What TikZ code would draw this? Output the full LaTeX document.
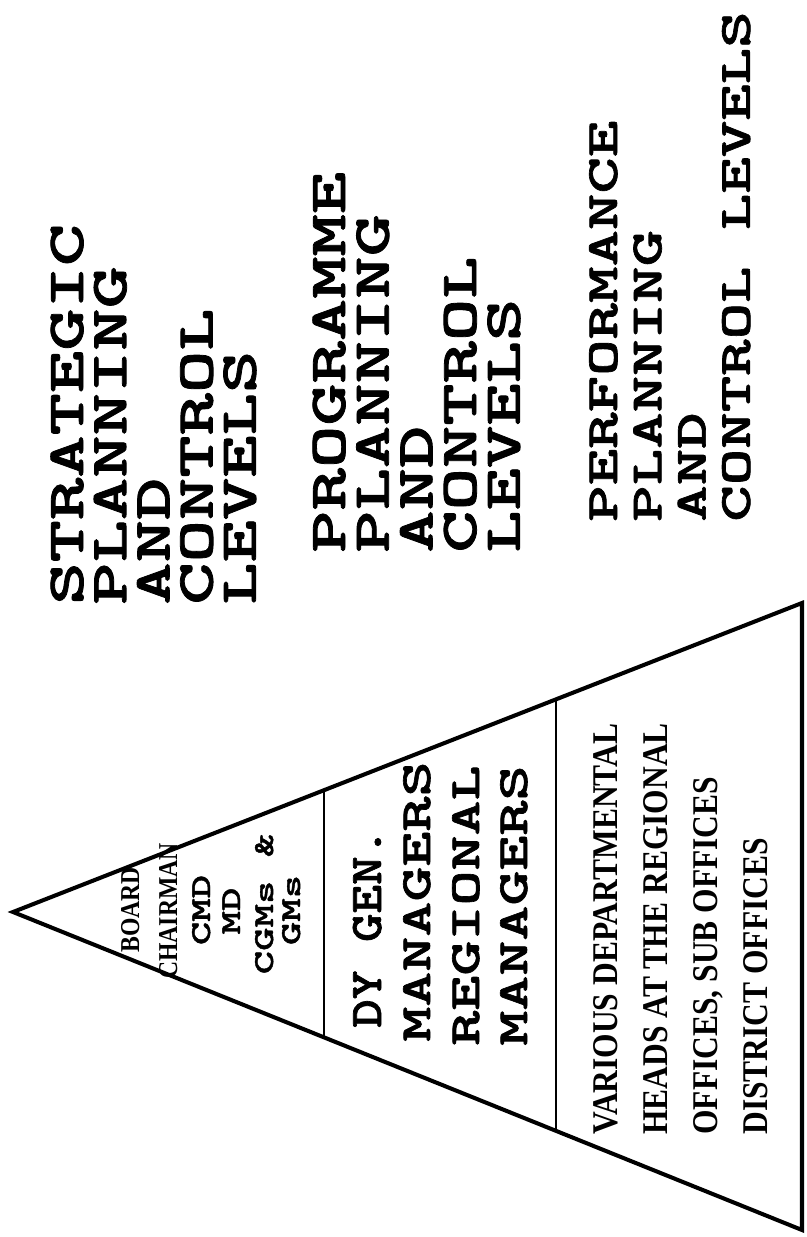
\documentclass[tikz,border=0pt]{standalone}
\usepackage{fontspec}
\usetikzlibrary{calc}
\newfontfamily\slabfont{lmmonolt10-bold}[Extension=.otf, FakeStretch=1.55, FakeBold=1.5]
\newfontfamily\slabtight{lmmonolt10-bold}[Extension=.otf, FakeStretch=1.2, FakeBold=1.5]
\newfontfamily\condfont{Liberation Serif}[FakeStretch=0.87]

\begin{document}
\begin{tikzpicture}[x=0.02cm, y=-0.02cm]

 \tikzset{
   edge/.style={draw=black, line width=2.3pt, line join=miter},
   divider/.style={draw=black, line width=1.4pt},
   lefttxt/.style={rotate=90, inner sep=0pt, anchor=base west},
   midtxt/.style={rotate=90, inner sep=0pt, anchor=base},
   headbig/.style={font=\slabfont\fontsize{29.6pt}{30pt}\selectfont},
   headsmall/.style={font=\slabfont\fontsize{25.5pt}{26pt}\selectfont},
   rankbig/.style={font=\slabfont\fontsize{24.5pt}{25pt}\selectfont},
   ranktight/.style={font=\slabtight\fontsize{25.8pt}{26pt}\selectfont},
   ranksmall/.style={font=\slabfont\fontsize{16.4pt}{17pt}\selectfont},
   condsmall/.style={font=\condfont\bfseries\fontsize{15.5pt}{16pt}\selectfont},
   condbig/.style={font=\condfont\bfseries\fontsize{20.6pt}{21pt}\selectfont}
 }

 \useasboundingbox (0,0) rectangle (807,1237);

 % Pyramid
 \coordinate (apex) at (13,912);
 \coordinate (topR) at (802,603);
 \coordinate (botR) at (802,1230);
 \draw[edge] (apex) -- (topR) -- (botR) -- cycle;
 \draw[divider] ($(apex)!0.394!(topR)$) -- ($(apex)!0.394!(botR)$);
 \draw[divider] ($(apex)!0.688!(topR)$) -- ($(apex)!0.688!(botR)$);

 % Top level
 \node[midtxt, condsmall] (board) at (139,910) {BOARD};
 \node[midtxt, condsmall] (chair) at (177,911) {CHAIRMAN};
 \node[midtxt, ranksmall] (cmd) at (210,910) {CMD};
 \node[midtxt, ranksmall] (md) at (240,911) {MD};
 \node[midtxt, ranksmall] (cgm) at (273,904) {CGMs \&};
 \node[midtxt, ranksmall] (gm) at (300,910) {GMs};

 % Middle level
 \node[lefttxt, ranktight] (dygen) at (381,1028) {DY GEN.};
 \node[lefttxt, rankbig] (mgr1) at (430,1042) {MANAGERS};
 \node[lefttxt, rankbig] (region) at (479,1046) {REGIONAL};
 \node[lefttxt, rankbig] (mgr2) at (527,1046) {MANAGERS};

 % Bottom level
 \foreach \txt [count=\i from 0] in {VARIOUS DEPARTMENTAL, HEADS AT THE REGIONAL, {OFFICES, SUB OFFICES}, DISTRICT OFFICES}
   \node[lefttxt, condbig] (low\i) at (617+50*\i, 1135) {\txt};

 % Level headings
 \foreach \txt [count=\i from 0] in {STRATEGIC, PLANNING, AND, CONTROL, LEVELS}
   \node[lefttxt, headbig] (strat\i) at (83+43.2*\i, 605) {\txt};
 \foreach \txt [count=\i from 0] in {PROGRAMME, PLANNING, AND, CONTROL, LEVELS}
   \node[lefttxt, headbig] (prog\i) at (345+43.7*\i, 553) {\txt};
 \foreach \txt [count=\i from 0] in {PERFORMANCE, PLANNING, AND, CONTROL LEVELS}
   \node[lefttxt, headsmall] (perf\i) at (617+44.3*\i, 522) {\txt};

\end{tikzpicture}
\end{document}
